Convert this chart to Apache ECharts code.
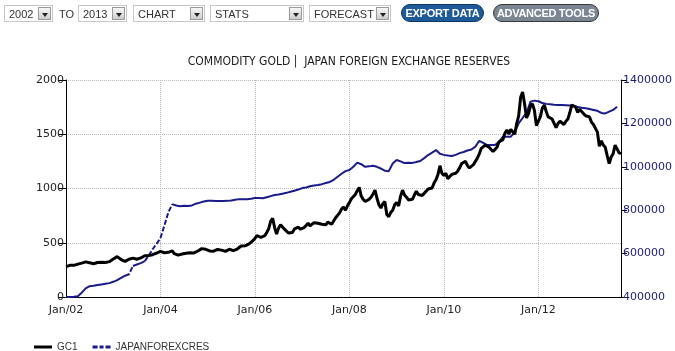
<!DOCTYPE html>
<html>
<head>
<meta charset="utf-8">
<script src="https://cdn.jsdelivr.net/npm/echarts@6/dist/echarts.min.js"></script>
<style>
  html, body { margin: 0; padding: 0; background: #fff; }
  #chart { position: absolute; left: 0; top: 0; width: 675px; height: 351px; }
  #bar { position: absolute; left: 0; top: 0; width: 675px; height: 30px; z-index: 5;
         font-family: 'Liberation Sans', Arial, sans-serif; font-size: 11px; color: #333; }
  .sel { position: absolute; top: 5px; height: 17px; border: 1px solid #c8c8c8; background: #fff; box-sizing: border-box; }
  .sel span { position: absolute; left: 4px; top: 2px; }
  .arr { position: absolute; right: 1px; top: 1px; width: 13px; height: 13px; box-sizing: border-box;
         background: linear-gradient(#f6f6f6, #cdcdcd); border: 1px solid #9a9a9a; }
  .arr:after { content: ''; position: absolute; left: 3px; top: 5px;
               border-left: 3px solid transparent; border-right: 3px solid transparent; border-top: 4px solid #222; }
  .lbl { position: absolute; top: 8px; }
  .btn { position: absolute; top: 4px; height: 18px; border-radius: 9px; color: #fff; font-weight: bold;
         text-align: center; line-height: 16px; box-sizing: border-box; letter-spacing: -0.3px; }
</style>
</head>
<body>
<div id="chart"></div>
<div id="bar">
  <div class="sel" style="left:4px;width:49px"><span>2002</span><div class="arr"></div></div>
  <div class="lbl" style="left:59px">TO</div>
  <div class="sel" style="left:78px;width:49px"><span>2013</span><div class="arr"></div></div>
  <div class="sel" style="left:133px;width:72px"><span>CHART</span><div class="arr"></div></div>
  <div class="sel" style="left:210px;width:94px"><span>STATS</span><div class="arr"></div></div>
  <div class="sel" style="left:309px;width:82px"><span>FORECAST</span><div class="arr"></div></div>
  <div class="btn" style="left:401px;width:83px;background:#1f5a98;border:1px solid #0e3766">EXPORT DATA</div>
  <div class="btn" style="left:493px;width:106px;background:#7c8594;border:1px solid #383838">ADVANCED TOOLS</div>
</div>
<script>
// gold (GC1), two readings per month from Jan 2002
var gcValues = [
  280, 285, 292, 296, 292, 298, 303, 306, 312, 318, 324, 320, 316, 310, 306, 312, 318, 322, 320, 314, 318, 320, 326, 340, // 2002
  350, 362, 372, 355, 345, 330, 328, 334, 348, 360, 358, 352, 348, 352, 360, 366, 380, 386, 382, 378, 390, 396, 405, 414, // 2003
  420, 410, 408, 402, 412, 420, 426, 400, 382, 386, 392, 396, 402, 404, 395, 408, 410, 406, 418, 424, 436, 446, 452, 440, // 2004
  430, 424, 426, 422, 436, 438, 428, 432, 426, 420, 426, 440, 424, 428, 436, 442, 450, 470, 474, 472, 468, 490, 505, 520, // 2005
  540, 565, 570, 550, 560, 565, 595, 630, 700, 725, 640, 580, 635, 665, 645, 625, 620, 590, 585, 595, 625, 640, 645, 625, // 2006
  620, 640, 660, 680, 655, 665, 685, 700, 680, 665, 670, 655, 665, 690, 690, 670, 700, 730, 745, 775, 810, 830, 800, 840, // 2007
  870, 905, 920, 945, 980, 1010, 930, 900, 880, 895, 900, 920, 950, 985, 910, 850, 820, 860, 880, 760, 740, 780, 800, 850, // 2008
  870, 840, 930, 985, 940, 920, 895, 880, 900, 940, 975, 945, 930, 935, 955, 950, 995, 1010, 1005, 1050, 1080, 1130, 1210, 1140, // 2009
  1120, 1140, 1090, 1110, 1130, 1120, 1140, 1160, 1190, 1230, 1220, 1250, 1210, 1190, 1180, 1220, 1250, 1280, 1320, 1370, 1360, 1400, 1410, 1380, // 2010
  1360, 1340, 1350, 1380, 1430, 1420, 1450, 1510, 1540, 1500, 1545, 1530, 1500, 1600, 1670, 1840, 1890, 1780, 1650, 1690, 1760, 1780, 1720, 1580, // 2011
  1570, 1660, 1740, 1770, 1710, 1660, 1650, 1640, 1640, 1560, 1600, 1620, 1610, 1590, 1620, 1640, 1700, 1770, 1780, 1750, 1700, 1730, 1710, 1690, // 2012
  1670, 1680, 1660, 1610, 1590, 1600, 1520, 1390, 1440, 1400, 1380, 1300, 1230, 1290, 1320, 1400, 1410, 1330, 1320 // 2013
];

// Japan foreign exchange reserves, monthly from Jan 2002
var jpValues = [
  400000, 400000, 401000, 403000, 420000, 440000, 450000, 452000, 455000, 458000, 461000, 464000, // 2002
  470000, 478000, 488000, 498000, 505000, 543000, 550000, 556000, 565000, 590000, 620000, 645000, // 2003
  672000, 730000, 790000, 828000, 822000, 818000, 820000, 819000, 822000, 830000, 835000, 840000, // 2004
  844000, 843000, 842000, 842000, 842000, 843000, 845000, 848000, 851000, 850000, 851000, 853000, // 2005
  856000, 856000, 855000, 860000, 865000, 870000, 872000, 876000, 880000, 885000, 890000, 895000, // 2006
  902000, 905000, 910000, 914000, 916000, 920000, 925000, 930000, 940000, 954000, 968000, 980000, // 2007
  985000, 1000000, 1019000, 1012000, 1000000, 1002000, 1005000, 1000000, 992000, 982000, 980000, 1015000, // 2008
  1031000, 1025000, 1017000, 1019000, 1018000, 1022000, 1027000, 1040000, 1054000, 1065000, 1077000, 1060000, // 2009
  1055000, 1052000, 1050000, 1055000, 1063000, 1068000, 1075000, 1080000, 1093000, 1120000, 1110000, 1100000, // 2010
  1100000, 1100000, 1115000, 1139000, 1139000, 1139000, 1160000, 1200000, 1225000, 1248000, 1300000, 1305000, // 2011
  1302000, 1294000, 1290000, 1288000, 1286000, 1285000, 1285000, 1284000, 1283000, 1280000, 1276000, 1272000, // 2012
  1270000, 1266000, 1262000, 1258000, 1248000, 1246000, 1254000, 1262000, 1277000 // 2013
];

// month ranges where the reserves line is drawn dashed (steep parts)
var jpDashRanges = [[15, 17], [20, 27]];

var gcData = gcValues.map(function (v, i) { return [2002 + i / 24, v]; });

function inDash(m, strict) {
  return jpDashRanges.some(function (r) {
    return strict ? (m > r[0] && m < r[1]) : (m >= r[0] && m <= r[1]);
  });
}
var jpSolid = jpValues.map(function (v, m) { return [2002 + m / 12, inDash(m, true) ? '-' : v]; });
var jpDashed = jpValues.map(function (v, m) { return [2002 + m / 12, inDash(m, false) ? v : '-']; });

var myChart = echarts.init(document.getElementById('chart'));
var font = "'DejaVu Sans', sans-serif";
var option = {
  animation: false,
  title: {
    text: 'COMMODITY GOLD |  JAPAN FOREIGN EXCHANGE RESERVES',
    left: 344, top: 51, textAlign: 'center',
    textStyle: { fontSize: 12, fontWeight: 'normal', color: '#1a1a1a', fontFamily: "'DejaVu Sans Condensed', 'Liberation Sans Narrow', sans-serif" }
  },
  legend: {
    data: [
      { name: 'GC1', icon: 'path://M0,0H18V3H0Z' },
      { name: 'JAPANFOREXCRES', icon: 'path://M0,0H5V3H0Z M7,0H11V3H7Z M13,0H18V3H13Z' }
    ],
    left: 29, top: 337, itemWidth: 18, itemHeight: 3, itemGap: 15,
    textStyle: { fontSize: 10, color: '#333', fontFamily: "'Liberation Sans', sans-serif" }
  },
  grid: { left: 66, right: 53, top: 80, bottom: 54 },
  xAxis: {
    type: 'value', min: 2002, max: 2013.75, interval: 2,
    axisLine: { lineStyle: { color: '#000', width: 1 } },
    axisTick: { show: false },
    axisLabel: {
      color: '#222', fontSize: 11, fontFamily: font, margin: 8,
      formatter: function (v) { return Number.isInteger(v) ? 'Jan/' + String(v).slice(2) : ''; }
    },
    splitLine: { show: true, lineStyle: { type: 'dotted', color: '#b8b8b8' } }
  },
  yAxis: [
    {
      type: 'value', position: 'left', min: 0, max: 2000, interval: 500,
      axisLine: { show: true, lineStyle: { color: '#000', width: 1 } },
      axisTick: { show: true, length: 8, lineStyle: { color: '#000' } },
      axisLabel: { color: '#222', fontSize: 11, fontFamily: font, margin: 2, formatter: function (v) { return String(v); } },
      splitLine: { show: true, lineStyle: { type: 'dotted', color: '#b8b8b8' } }
    },
    {
      type: 'value', position: 'right', min: 400000, max: 1400000, interval: 200000,
      axisLine: { show: true, lineStyle: { color: '#000', width: 1 } },
      axisTick: { show: true, length: 6, lineStyle: { color: '#000' } },
      axisLabel: { color: '#1c1c78', fontSize: 11, fontFamily: font, margin: 2, formatter: function (v) { return String(v); } },
      splitLine: { show: false }
    }
  ],
  series: [
    {
      name: 'JAPANFOREXCRES', type: 'line', yAxisIndex: 1, data: jpDashed,
      symbol: 'none', connectNulls: false, z: 2,
      lineStyle: { color: '#1a1a8a', width: 2, type: [5, 2] },
      itemStyle: { color: '#1a1a8a' }
    },
    {
      name: 'JAPANFOREXCRES', type: 'line', yAxisIndex: 1, data: jpSolid,
      symbol: 'none', connectNulls: false, z: 2,
      lineStyle: { color: '#1a1a8a', width: 2 },
      itemStyle: { color: '#1a1a8a' }
    },
    {
      name: 'GC1', type: 'line', yAxisIndex: 0, data: gcData,
      symbol: 'none', z: 3,
      lineStyle: { color: '#000', width: 3 },
      itemStyle: { color: '#000' }
    }
  ]
};
myChart.setOption(option);
window.addEventListener('resize', function () { myChart.resize(); });
</script>
</body>
</html>
